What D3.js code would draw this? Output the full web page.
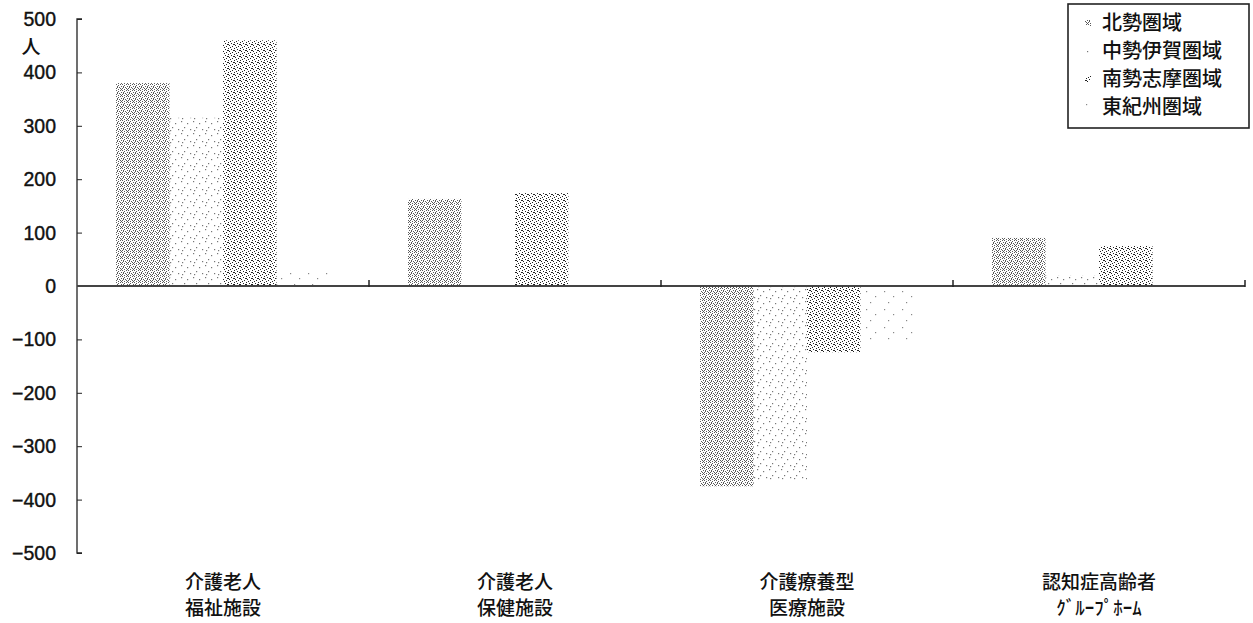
<!DOCTYPE html>
<html><head><meta charset="utf-8">
<script src="https://cdn.jsdelivr.net/npm/d3@7"></script>
<style>body{margin:0;background:#fff}svg{display:block}</style>
</head><body>
<svg id="c" width="1253" height="623"></svg>
<script>
const categories = [["介護老人","福祉施設"],["介護老人","保健施設"],["介護療養型","医療施設"],["認知症高齢者","ｸﾞﾙｰﾌﾟﾎｰﾑ"]];
const seriesNames = ["北勢圏域","中勢伊賀圏域","南勢志摩圏域","東紀州圏域"];
const hokusei   = [380, 163, -375, 90];
const chusei    = [315, 0, -363, 20];
const nansei    = [460, 174, -124, 75];
const higashi   = [25, 0, -101, 0];
const yTicks = [500,400,300,200,100,0,-100,-200,-300,-400,-500];
const unitLabel = "人";

(function(){
const values = [hokusei, chusei, nansei, higashi];
const svg = d3.select("#c");
const defs = svg.append("defs");
function pat(id, size, dots, color, r){
  const p = defs.append("pattern").attr("id",id).attr("patternUnits","userSpaceOnUse").attr("width",size).attr("height",size);
  dots.forEach(d=>p.append("rect").attr("x",d[0]).attr("y",d[1]).attr("width",r).attr("height",r).attr("fill",color));
}
pat("p0",6,[[0,0],[2,0],[4,1],[1,2],[3,2],[5,3],[0,4],[2,4],[4,5],[1,5],[3,3]],"#5a5a5a",1);
pat("p1",12,[[1,1],[7,3],[4,7],[10,9],[2,10]],"#777",1.2);
pat("p2",6,[[0,0],[3,1],[1,3],[4,4],[2,5],[5,2],[0,2]],"#222",1);
pat("p3",18,[[2,3],[11,8],[6,14]],"#888",1.2);
const fills = ["url(#p0)","url(#p1)","url(#p2)","url(#p3)"];

const pl=77, pr=1245, pt=19, pb=553;
const x = d3.scaleBand().domain(d3.range(categories.length)).range([pl,pr]).paddingInner(0).paddingOuter(0);
const xs = d3.scaleBand().domain(d3.range(seriesNames.length)).range([0,x.bandwidth()]).paddingOuter(0.73).paddingInner(0);
const y = d3.scaleLinear().domain([-500,500]).range([pb,pt]);

const g = svg.append("g");
values.forEach((vals,si)=>{
  g.selectAll(".b"+si).data(vals).enter().append("rect")
   .attr("x",(d,i)=>x(i)+xs(si))
   .attr("width",xs.bandwidth())
   .attr("y",d=>y(Math.max(0,d)))
   .attr("height",d=>Math.abs(y(d)-y(0)))
   .attr("fill",fills[si]);
});

const yAxis = d3.axisRight(y).tickValues(yTicks).tickSize(5).tickFormat("");
const ya = svg.append("g").attr("transform",`translate(${pl},0)`).call(yAxis);
ya.select(".domain").attr("stroke","#222").attr("stroke-width",1.3).attr("d",`M5,${pt}H0V${pb}H5`);
ya.selectAll("line").attr("stroke","#222");
svg.append("g").selectAll("text").data(yTicks).enter().append("text")
  .attr("x",56).attr("y",d=>y(d)+7).attr("text-anchor","end")
  .attr("font-family","Liberation Sans, Arial, sans-serif").attr("font-size",19.5)
  .attr("fill","#111").attr("stroke","#111").attr("stroke-width",0.4)
  .text(d=>d<0?"−"+Math.abs(d):d);
svg.append("text").attr("x",31).attr("y",54).attr("text-anchor","middle")
  .attr("font-family","Noto Sans CJK JP").attr("font-size",19).attr("font-weight",500).attr("fill","#111").text(unitLabel);

svg.append("line").attr("x1",pl).attr("x2",pr).attr("y1",y(0)).attr("y2",y(0)).attr("stroke","#444").attr("stroke-width",1.8);
const seps = d3.range(1,categories.length+1).map(i=>i<categories.length?x(i):pr);
svg.selectAll(".sep").data(seps).enter().append("line")
  .attr("x1",d=>d).attr("x2",d=>d).attr("y1",y(0)-6).attr("y2",y(0)+1).attr("stroke","#222").attr("stroke-width",1.5);

const cl = svg.append("g");
categories.forEach((c,i)=>{
  c.forEach((t,k)=>{
    cl.append("text").attr("x",x(i)+x.bandwidth()/2).attr("y",589+k*26).attr("text-anchor","middle")
      .attr("font-family","Noto Sans CJK JP").attr("font-size",19).attr("font-weight",500).attr("fill","#111").text(t);
  });
});

const lg = svg.append("g");
lg.append("rect").attr("x",1068).attr("y",4).attr("width",181).attr("height",124).attr("fill","#fff").attr("stroke","#222").attr("stroke-width",1.6);
seriesNames.forEach((n,i)=>{
  const yy = 23+i*28;
  lg.append("rect").attr("x",1085).attr("y",yy-3).attr("width",6).attr("height",6).attr("fill",fills[i]);
  lg.append("text").attr("x",1102).attr("y",yy+7).attr("font-family","Noto Sans CJK JP").attr("font-size",20).attr("font-weight",500).attr("fill","#111").text(n);
});
})();
</script>
</body></html>
